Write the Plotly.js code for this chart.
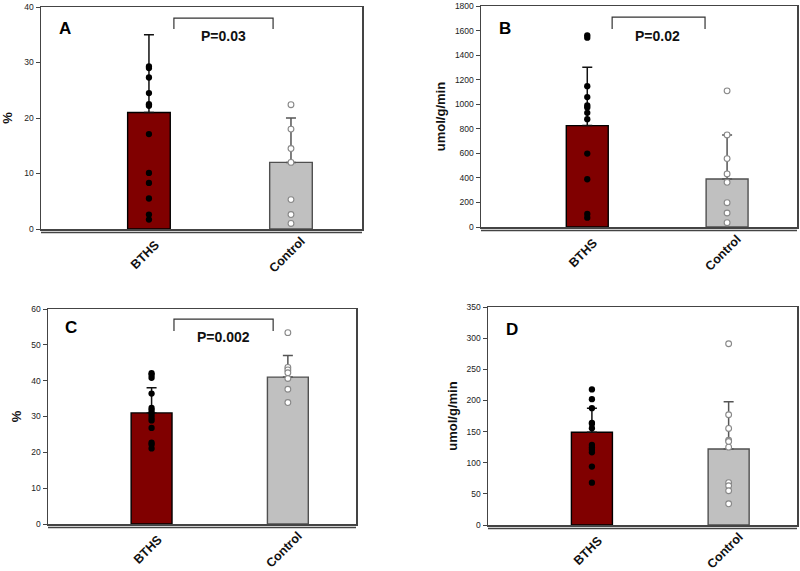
<!DOCTYPE html>
<html><head><meta charset="utf-8">
<script src="https://cdn.plot.ly/plotly-3.0.1.min.js"></script>
<style>html,body{margin:0;padding:0;background:#fff}#chart{width:800px;height:571px}</style>
</head><body><div id="chart"></div>
<script>
const categories = ["BTHS", "Control"];
const panelLetters = ["A", "B", "C", "D"];
const pLabels = ["P=0.03", "P=0.02", "P=0.002", null];
const yTitles = ["%", "umol/g/min", "%", "umol/g/min"];

// bar means and (upper) SD per panel: [BTHS, Control]
const meansA = [21.0, 12.0];   const sdA = [14.0, 8.0];
const meansB = [826, 391];     const sdB = [476, 359];
const meansC = [31.0, 41.0];   const sdC = [7.0, 6.0];
const meansD = [148.8, 122];   const sdD = [38.5, 76];

// individual points
const ptsA_BTHS = [29.3, 29.0, 27.3, 24.5, 22.5, 22.2, 17.1, 10.1, 8.3, 5.5, 2.6, 1.7];
const ptsA_Ctrl = [22.4, 18.0, 14.5, 12.0, 5.3, 2.6, 1.0];
const ptsB_BTHS = [1561, 1542, 1147, 1058, 990, 973, 930, 878, 598, 389, 106, 76];
const ptsB_Ctrl = [1109, 750, 557, 432, 364, 198, 114, 35];
const ptsC_BTHS = [42.1, 41.6, 40.8, 36.4, 32.4, 31.8, 31.1, 30.4, 29.6, 28.9, 26.8, 22.7, 22.2, 21.1];
const ptsC_Ctrl = [53.4, 43.7, 43.0, 42.2, 40.6, 37.6, 33.9];
const ptsD_BTHS = [217.6, 202, 187.6, 164, 162.4, 155.4, 128.6, 124.3, 121, 116.8, 93.8, 68];
const ptsD_Ctrl = [291, 177, 155, 136, 134, 125, 68, 63, 55, 34];

// y tick settings per panel
const yMax = [40, 1800, 60, 350];
const yStep = [10, 200, 10, 50];

const panels = [
  {m: meansA, sd: sdA, pb: ptsA_BTHS, pc: ptsA_Ctrl},
  {m: meansB, sd: sdB, pb: ptsB_BTHS, pc: ptsB_Ctrl},
  {m: meansC, sd: sdC, pb: ptsC_BTHS, pc: ptsC_Ctrl},
  {m: meansD, sd: sdD, pb: ptsD_BTHS, pc: ptsD_Ctrl}
];

// layout geometry (pixel boxes -> paper fractions)
const W = 800, H = 571;
const boxes = [
  {l: 41, r: 362, t: 7, b: 229},
  {l: 481, r: 797, t: 6, b: 227},
  {l: 48, r: 356, t: 309, b: 524},
  {l: 488, r: 797, t: 307, b: 525}
];
const brackets = [
  {x0: 0.414, x1: 0.723, yt: 0.950, yb: 0.901, tx: 0.570, ty: 0.869},
  {x0: 0.415, x1: 0.709, yt: 0.950, yb: 0.896, tx: 0.560, ty: 0.864},
  {x0: 0.409, x1: 0.731, yt: 0.953, yb: 0.898, tx: 0.571, ty: 0.870},
  null
];
const letterPos = [[0.075, 0.905], [0.076, 0.900], [0.075, 0.912], [0.078, 0.899]];
const titleStandoff = [13, 6, 7, 6];

const FONT = "Arial, 'Liberation Sans', sans-serif";
const BAR_COLORS = ["#800000", "#c0c0c0"];
const BAR_LINES = ["#000000", "#505050"];
const ERR_COLORS = ["#111111", "#555555"];

const data = [];
const layout = {
  width: W, height: H,
  margin: {l: 0, r: 0, t: 0, b: 0},
  paper_bgcolor: "#fff", plot_bgcolor: "#fff",
  showlegend: false, barmode: "overlay",
  font: {family: FONT, color: "#222"},
  shapes: [], annotations: []
};

panels.forEach((p, i) => {
  const n = i === 0 ? "" : String(i + 1);
  const xa = "x" + n, ya = "y" + n;
  const bx = boxes[i];
  // bars
  categories.forEach((c, k) => {
    data.push({
      type: "bar", x: [c], y: [p.m[k]], xaxis: xa, yaxis: ya, width: 0.3,
      marker: {color: BAR_COLORS[k], line: {color: BAR_LINES[k], width: 1.4}},
      error_y: {type: "data", symmetric: false, array: [p.sd[k]], arrayminus: [0],
                color: ERR_COLORS[k], thickness: 1.5, width: 5},
      hoverinfo: "skip"
    });
  });
  // points
  data.push({
    type: "scatter", mode: "markers", xaxis: xa, yaxis: ya,
    x: p.pb.map(() => categories[0]), y: p.pb,
    marker: {color: "#000", size: 6.3, line: {width: 0}}
  });
  data.push({
    type: "scatter", mode: "markers", xaxis: xa, yaxis: ya,
    x: p.pc.map(() => categories[1]), y: p.pc,
    marker: {color: "#fff", size: 5.8, line: {color: "#888", width: 1.1}}
  });

  const ticks = [];
  for (let v = 0; v <= yMax[i] + 1e-9; v += yStep[i]) ticks.push(v);

  layout["xaxis" + n] = {
    domain: [bx.l / W, bx.r / W], anchor: ya, type: "category",
    categoryorder: "array", categoryarray: categories,
    range: [-0.76, 1.5], showline: true, mirror: true, linecolor: "#444", linewidth: 1.5,
    ticks: "", showticklabels: false,
    showgrid: false, zeroline: false, fixedrange: true
  };
  layout["yaxis" + n] = {
    domain: [1 - bx.b / H, 1 - bx.t / H], anchor: xa,
    range: [0, yMax[i]], tickvals: ticks, ticks: "outside", ticklen: 4, tickcolor: "#444",
    tickwidth: 1, showline: true, mirror: true, linecolor: "#444", linewidth: 1.5,
    tickfont: {family: FONT, size: 8.5, color: "#222"},
    showgrid: false, zeroline: false, fixedrange: true,
    title: {text: yTitles[i], standoff: titleStandoff[i],
            font: {family: FONT, size: 13, color: "#111", weight: "bold"}}
  };
  // rotated category labels, centred under each bar
  categories.forEach((c) => {
    layout.annotations.push({
      xref: xa, yref: ya + " domain", x: c, y: 0, xshift: -4, yshift: -26,
      text: c, showarrow: false, textangle: -45, xanchor: "center", yanchor: "middle",
      font: {family: FONT, size: 12.5, color: "#111", weight: "bold"}
    });
  });
  // second baseline under x-axis
  layout.shapes.push({
    type: "line", xref: xa + " domain", yref: ya + " domain",
    x0: 0, x1: 1, ysizemode: "pixel", yanchor: 0, y0: -3.5, y1: -3.5,
    line: {color: "#444", width: 1.5}
  });
  // panel letter
  layout.annotations.push({
    xref: xa + " domain", yref: ya + " domain", x: letterPos[i][0], y: letterPos[i][1],
    text: panelLetters[i], showarrow: false, xanchor: "center", yanchor: "middle",
    font: {family: FONT, size: 17, color: "#000", weight: "bold"}
  });
  const br = brackets[i];
  if (br) {
    layout.shapes.push({
      type: "path", xref: xa + " domain", yref: ya + " domain",
      path: `M ${br.x0} ${br.yb} L ${br.x0} ${br.yt} L ${br.x1} ${br.yt} L ${br.x1} ${br.yb}`,
      line: {color: "#333", width: 1.2}
    });
    layout.annotations.push({
      xref: xa + " domain", yref: ya + " domain", x: br.tx, y: br.ty,
      text: pLabels[i], showarrow: false, xanchor: "center", yanchor: "middle",
      font: {family: FONT, size: 14, color: "#111", weight: "bold"}
    });
  }
});

Plotly.newPlot("chart", data, layout, {staticPlot: true, displayModeBar: false});
</script>
</body></html>
